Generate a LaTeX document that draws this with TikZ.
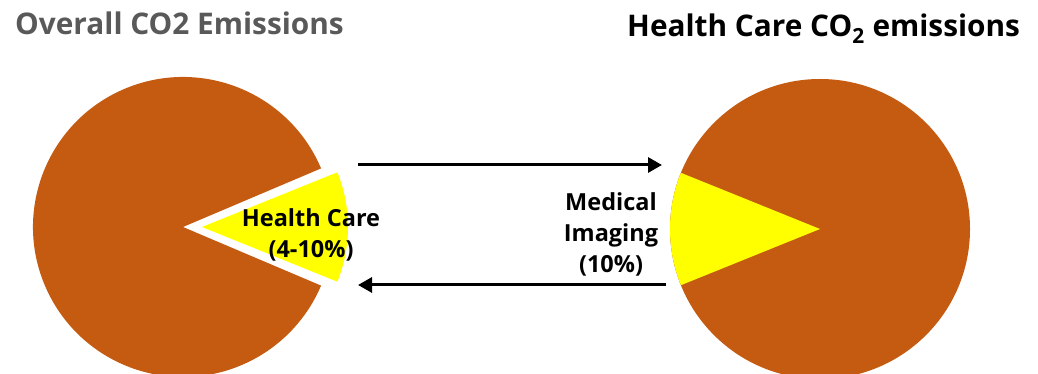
\documentclass[tikz,border=0pt]{standalone}
\usepackage{fontspec}
\setmainfont{Open Sans}
\usetikzlibrary{arrows.meta}
\definecolor{pieorange}{HTML}{C55A11}
\definecolor{pieyellow}{HTML}{FFFF00}
\definecolor{titlegray}{HTML}{595959}

\begin{document}
\begin{tikzpicture}[x=1pt,y=1pt,
		titletext/.style={anchor=base west,inner sep=0pt,font=\fontsize{29.8}{36}\selectfont\bfseries},
		labeltext/.style={inner sep=0pt,align=center,anchor=base,font=\fontsize{23.5}{31}\selectfont\bfseries},
		flowarrow/.style={line width=3pt,-{Triangle[length=14pt,width=15pt]}}]
		\clip ( 0, 0 ) rectangle ( 1038, 374 );

		% заголовки
		\node [titletext,text=titlegray] (lefttitle) at ( 15, 339 ) {Overall CO2 Emissions};
		\node [titletext] (righttitle) at ( 627, 337 ) {Health Care CO\textsubscript{2} emissions};

		% общая диаграмма
		\fill [pieorange] ( 183, 147 ) -- ++( 23:150 ) arc [start angle=23, end angle=337, radius=150] -- cycle;
		\fill [pieyellow] ( 202, 147 ) -- ++( -22:146 ) arc [start angle=-22, end angle=22, radius=146] -- cycle;
		\node [labeltext] (healthcare) at ( 311, 116 ) {Health Care\\(4-10\%)};

		% диаграмма здравоохранения
		\fill [pieorange] ( 820, 145 ) circle [radius=150];
		\fill [pieyellow] ( 820, 145 ) -- ++( 158:150 ) arc [start angle=158, end angle=202, radius=150] -- cycle;
		\node [labeltext] (imaging) at ( 611, 101 ) {Medical\\Imaging\\(10\%)};

		% стрелки
		\coordinate (toright0) at ( 358, 209 );
		\coordinate (toright1) at ( 662, 209 );
		\coordinate (toleft0) at ( 666, 89 );
		\coordinate (toleft1) at ( 358, 89 );
		\draw [flowarrow] (toright0) -- (toright1);
		\draw [flowarrow] (toleft0) -- (toleft1);
	\end{tikzpicture}
\end{document}
